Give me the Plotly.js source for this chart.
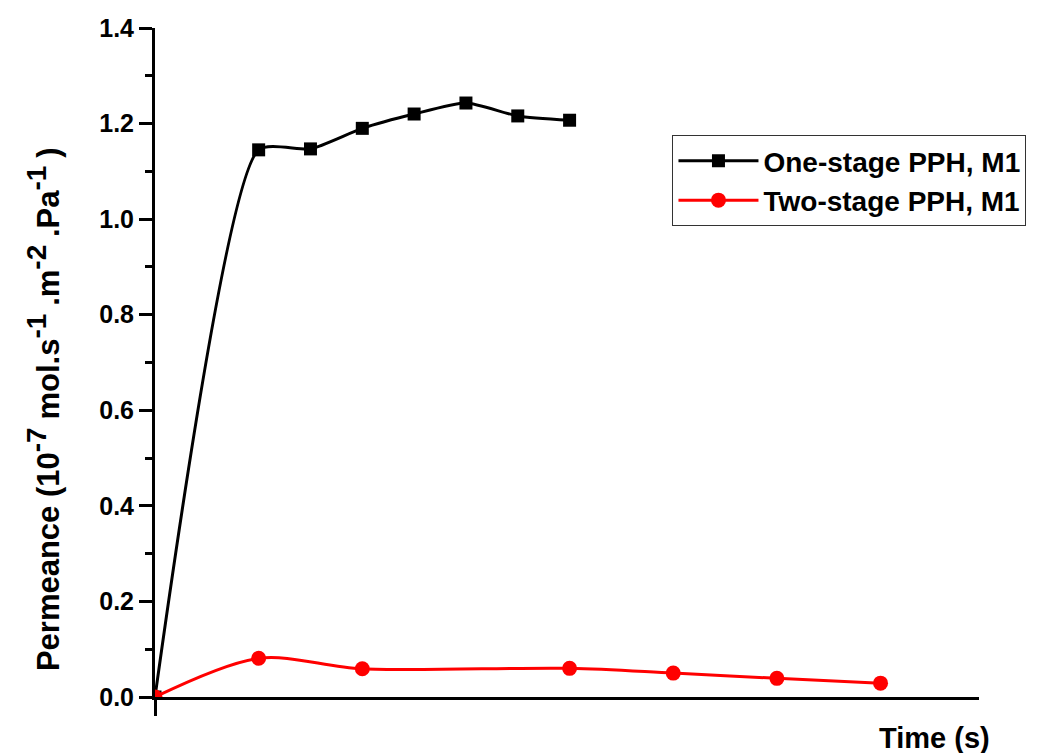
<!DOCTYPE html>
<html>
<head>
<meta charset="utf-8">
<script src="https://cdn.plot.ly/plotly-3.0.1.min.js"></script>
<style>html,body{margin:0;padding:0;background:#fff;}#chart{width:1050px;height:753px;}</style>
</head>
<body>
<div id="chart"></div>
<script>
// Data
const oneStageX = [0, 2, 3, 4, 5, 6, 7, 8];
const oneStageY = [0, 1.145, 1.147, 1.190, 1.220, 1.243, 1.216, 1.207];
const twoStageX = [0, 2, 4, 8, 10, 12, 14];
const twoStageY = [0, 0.081, 0.059, 0.060, 0.050, 0.039, 0.029];
const seriesNames = ["One-stage PPH, M1", "Two-stage PPH, M1"];
const yTickVals = [0, 0.2, 0.4, 0.6, 0.8, 1.0, 1.2, 1.4];
const sup = (s) => "<sup><span style='font-size:28px'>" + s + " </span></sup>";
const yTitle = "Permeance (10" + sup("-7") + "mol.s" + sup("-1") + ".m" + sup("-2") + ".Pa" + sup("-1") + ")";
const xTitle = "Time (s)";

const font = {family: "Arial, 'Liberation Sans', sans-serif", color: "#000"};
const f = (size) => Object.assign({size: size, weight: "bold"}, font);

const traces = [
  {
    x: oneStageX, y: oneStageY, name: seriesNames[0], type: "scatter", mode: "lines+markers",
    line: {color: "#000", width: 3, shape: "spline", smoothing: 0.6},
    marker: {symbol: "square", size: 13, color: "#000"}
  },
  {
    x: twoStageX, y: twoStageY, name: seriesNames[1], type: "scatter", mode: "lines+markers",
    line: {color: "#ff0000", width: 3, shape: "spline", smoothing: 0.9},
    marker: {symbol: "circle", size: 15, color: "#ff0000"}
  }
];

const layout = {
  width: 1050, height: 753,
  margin: {l: 155, r: 70.5, t: 28, b: 56},
  paper_bgcolor: "#fff", plot_bgcolor: "#fff",
  showlegend: true,
  legend: {
    x: 0.628, y: 0.84, xanchor: "left", yanchor: "top",
    bgcolor: "#fff", bordercolor: "#333", borderwidth: 1,
    font: f(28), itemwidth: 80, tracegroupgap: 0
  },
  xaxis: {
    range: [0, 15.9], showline: true, linecolor: "#000", linewidth: 3,
    showgrid: false, zeroline: false,
    tickvals: [0], ticktext: [" "], ticks: "outside", ticklen: 16, tickwidth: 3, tickcolor: "#000"
  },
  yaxis: {
    range: [0, 1.4], showline: true, linecolor: "#000", linewidth: 3,
    showgrid: false, zeroline: false,
    tickvals: yTickVals, tickformat: ".1f", ticks: "outside", ticklen: 13, tickwidth: 3, tickcolor: "#000",
    tickfont: f(25),
    minor: {dtick: 0.1, ticks: "outside", ticklen: 7, tickwidth: 3, tickcolor: "#000"}
  },
  annotations: [
    {text: yTitle, xref: "paper", yref: "paper", x: -0.135, y: 0.43, xanchor: "center", yanchor: "middle",
     textangle: -90, showarrow: false, font: f(31)},
    {text: xTitle, xref: "paper", yref: "paper", x: 1.016, y: -0.062, xanchor: "right", yanchor: "middle",
     showarrow: false, font: f(29)}
  ]
};

Plotly.newPlot("chart", traces, layout, {displayModeBar: false, responsive: false});
</script>
</body>
</html>
